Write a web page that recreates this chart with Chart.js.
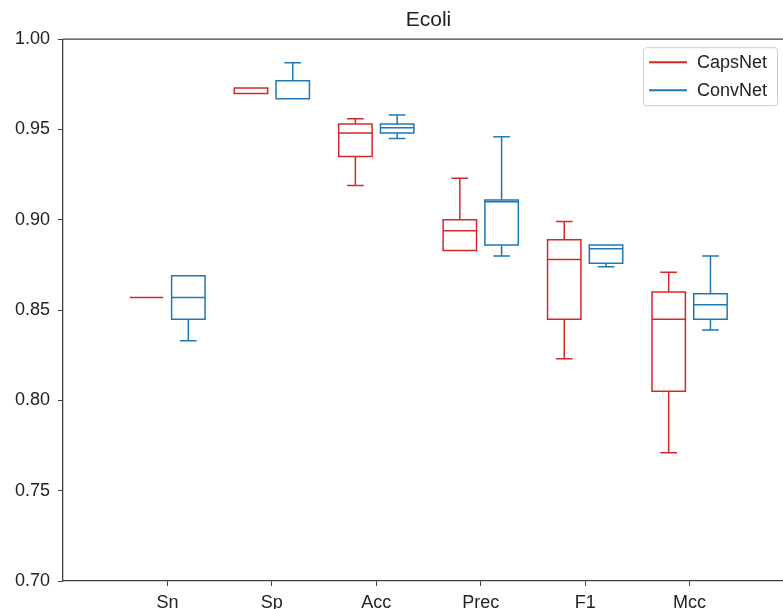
<!DOCTYPE html>
<html>
<head>
<meta charset="utf-8">
<title>Ecoli</title>
<script src="https://cdn.jsdelivr.net/npm/chart.js@4.4.1/dist/chart.umd.min.js"></script>
<style>
  html, body { margin: 0; padding: 0; background: #fff; overflow: hidden; }
  #wrap { width: 800px; height: 609px; position: relative; }
</style>
</head>
<body>
<div id="wrap"><canvas id="box-chart"></canvas></div>
<script>
// metrics on the x axis
const categories = ['Sn', 'Sp', 'Acc', 'Prec', 'F1', 'Mcc'];
const seriesNames = ['CapsNet', 'ConvNet'];
const seriesColors = ['#d62728', '#1f77b4'];

// CapsNet five-number summaries
const capsMin = [0.857, 0.970, 0.919, 0.883, 0.823, 0.771];
const capsQ1  = [0.857, 0.970, 0.935, 0.883, 0.845, 0.805];
const capsMed = [0.857, 0.970, 0.948, 0.894, 0.878, 0.845];
const capsQ3  = [0.857, 0.973, 0.953, 0.900, 0.889, 0.860];
const capsMax = [0.857, 0.973, 0.956, 0.923, 0.899, 0.871];

// ConvNet five-number summaries
const convMin = [0.833, 0.967, 0.945, 0.880, 0.874, 0.839];
const convQ1  = [0.845, 0.967, 0.948, 0.886, 0.876, 0.845];
const convMed = [0.857, 0.967, 0.951, 0.910, 0.884, 0.853];
const convQ3  = [0.869, 0.977, 0.953, 0.911, 0.886, 0.859];
const convMax = [0.869, 0.987, 0.958, 0.946, 0.886, 0.880];

const yTicks = [0.70, 0.75, 0.80, 0.85, 0.90, 0.95, 1.00];

const stats = [
  { min: capsMin, q1: capsQ1, med: capsMed, q3: capsQ3, max: capsMax },
  { min: convMin, q1: convQ1, med: convMed, q3: convQ3, max: convMax },
];

const OFFSET = 0.2;    // group offset in category units
const BOX_W = 0.32;    // box width in category units
const AXIS_COLOR = '#404040';
const FONT = '"Liberation Sans", Arial, Helvetica, sans-serif';

// draws the boxes, whiskers and caps through the x / y scales
const boxPlugin = {
  id: 'boxes',
  afterDatasetsDraw(chart) {
    const { ctx, scales: { x, y }, chartArea } = chart;
    ctx.save();
    ctx.lineWidth = 1.5;
    stats.forEach((s, si) => {
      const shift = si === 0 ? -OFFSET : OFFSET;
      ctx.strokeStyle = seriesColors[si];
      categories.forEach((c, i) => {
        const pos = i + 1 + shift;
        const xl = x.getPixelForValue(pos - BOX_W / 2);
        const xr = x.getPixelForValue(pos + BOX_W / 2);
        const xc = x.getPixelForValue(pos);
        const cl = x.getPixelForValue(pos - BOX_W / 4);
        const cr = x.getPixelForValue(pos + BOX_W / 4);
        const yMin = y.getPixelForValue(s.min[i]);
        const yQ1 = y.getPixelForValue(s.q1[i]);
        const yMed = y.getPixelForValue(s.med[i]);
        const yQ3 = y.getPixelForValue(s.q3[i]);
        const yMax = y.getPixelForValue(s.max[i]);
        ctx.beginPath();
        // box
        ctx.rect(xl, yQ3, xr - xl, yQ1 - yQ3);
        // median
        ctx.moveTo(xl, yMed); ctx.lineTo(xr, yMed);
        // whiskers
        ctx.moveTo(xc, yQ3); ctx.lineTo(xc, yMax);
        ctx.moveTo(xc, yQ1); ctx.lineTo(xc, yMin);
        // caps
        ctx.moveTo(cl, yMax); ctx.lineTo(cr, yMax);
        ctx.moveTo(cl, yMin); ctx.lineTo(cr, yMin);
        ctx.stroke();
      });
    });
    // top and right spines
    ctx.strokeStyle = AXIS_COLOR;
    ctx.lineWidth = 1.3;
    ctx.beginPath();
    ctx.moveTo(chartArea.left, chartArea.top);
    ctx.lineTo(chartArea.right, chartArea.top);
    ctx.lineTo(chartArea.right, chartArea.bottom);
    ctx.stroke();
    ctx.restore();
  },
  afterDraw(chart) {
    // legend in the upper right corner of the plot
    const { ctx, chartArea } = chart;
    const bx = chartArea.right - 151, by = chartArea.top + 8, bw = 134, bh = 58;
    ctx.save();
    ctx.fillStyle = 'rgba(255,255,255,0.8)';
    ctx.strokeStyle = '#cccccc';
    ctx.lineWidth = 1;
    ctx.beginPath();
    ctx.roundRect(bx + 0.5, by + 0.5, bw, bh, 3);
    ctx.fill();
    ctx.stroke();
    ctx.font = '18px ' + FONT;
    ctx.textBaseline = 'middle';
    seriesNames.forEach((name, i) => {
      const ly = by + 15 + i * 28;
      ctx.strokeStyle = seriesColors[i];
      ctx.lineWidth = 2;
      ctx.beginPath();
      ctx.moveTo(bx + 6, ly); ctx.lineTo(bx + 44, ly);
      ctx.stroke();
      ctx.fillStyle = '#222';
      ctx.fillText(name, bx + 54, ly + 1);
    });
    ctx.restore();
  }
};

const ctx = document.getElementById('box-chart').getContext('2d');

new Chart(ctx, {
  type: 'scatter',
  data: {
    datasets: seriesNames.map((name, si) => ({
      label: name,
      data: categories.map((c, i) => ({ x: i + 1 + (si === 0 ? -OFFSET : OFFSET), y: stats[si].med[i] })),
      borderColor: seriesColors[si],
      backgroundColor: seriesColors[si],
      pointRadius: 0,
      showLine: false,
    })),
  },
  options: {
    responsive: true,
    maintainAspectRatio: false,
    animation: false,
    layout: { padding: { left: 0, right: 6, top: 0, bottom: 0 } },
    plugins: {
      legend: { display: false },
      tooltip: { enabled: false },
      title: {
        display: true,
        text: 'Ecoli',
        fullSize: false,
        color: '#222',
        font: { family: FONT, size: 21, weight: 'normal' },
        padding: { top: 8, bottom: 6 },
      },
    },
    scales: {
      x: {
        type: 'linear',
        min: 0,
        max: 7,
        afterBuildTicks: (axis) => {
          axis.ticks = categories.map((c, i) => ({ value: i + 1 }));
        },
        afterFit: (axis) => { axis.height = 28; },
        ticks: {
          callback: (v) => categories[v - 1] || '',
          color: '#222',
          font: { family: FONT, size: 18 },
          padding: 6,
          maxRotation: 0,
          autoSkip: false,
        },
        grid: { drawOnChartArea: false, drawTicks: true, tickLength: 5, color: AXIS_COLOR },
        border: { display: true, color: AXIS_COLOR, width: 1.3 },
      },
      y: {
        min: 0.7,
        max: 1.0,
        afterBuildTicks: (axis) => {
          axis.ticks = yTicks.map((v) => ({ value: v }));
        },
        afterFit: (axis) => { axis.width = 63; },
        ticks: {
          callback: (v) => Number(v).toFixed(2),
          color: '#222',
          font: { family: FONT, size: 18 },
          padding: 8,
        },
        grid: { drawOnChartArea: false, drawTicks: true, tickLength: 5, color: AXIS_COLOR },
        border: { display: true, color: AXIS_COLOR, width: 1.3 },
      },
    },
  },
  plugins: [boxPlugin],
});
</script>
</body>
</html>
